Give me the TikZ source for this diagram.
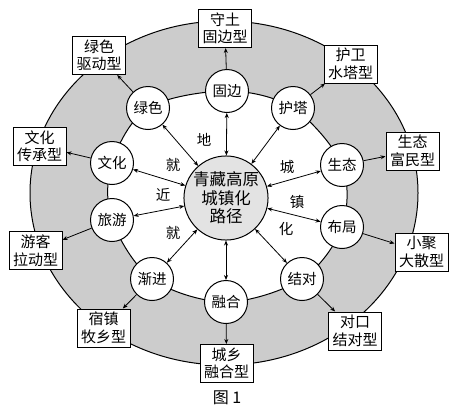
\documentclass[tikz,border=0pt]{standalone}
\usepackage{fontspec}
\newfontfamily\cjk{Noto Sans CJK SC}
\usetikzlibrary{arrows.meta}
\begin{document}
\begin{tikzpicture}[x=1pt,y=-1pt,
  sub/.style={circle,draw,line width=1pt,fill=white,minimum size=43pt,inner sep=0pt,font=\cjk\fontsize{14.5}{16}\selectfont},
  core/.style={circle,draw,line width=1pt,fill=gray!22,minimum size=78pt,inner sep=0pt,align=center,font=\cjk\fontsize{16.5}{18.5}\selectfont},
  typebox/.style={draw,line width=1pt,fill=white,align=center,inner sep=1pt,minimum width=53pt,minimum height=38pt,font=\cjk\fontsize{15}{17.5}\selectfont},
  link/.style={line width=0.8pt,{Stealth[length=5pt,width=4pt]}-{Stealth[length=5pt,width=4pt]}},
  outarrow/.style={line width=0.8pt,-{Stealth[length=5pt,width=4pt]}},
  lbl/.style={font=\cjk\fontsize{14.5}{16}\selectfont,inner sep=0pt}]
\useasboundingbox (0,0) rectangle (449,407);
% ring
\filldraw[fill=gray!40,line width=1pt] (224,193) ellipse [x radius=194pt, y radius=172pt];
\filldraw[fill=white,line width=1pt] plot[smooth cycle,tension=0.55] coordinates {
  (227,91) (293,108) (342,165) (342,227) (302,279) (226,302) (152,279) (112,220) (112,163) (148,108)};
% centre
\node[core] (core) at (226,198) {青藏高原\\城镇化\\路径};
% small circles
\node[sub] (gubian)   at (227,91)  {固边};
\node[sub] (lvse)     at (148,108) {绿色};
\node[sub] (huta)     at (293,108) {护塔};
\node[sub] (wenhua)   at (112,163) {文化};
\node[sub] (shengtai) at (342,165) {生态};
\node[sub] (lvyou)    at (112,220) {旅游};
\node[sub] (buju)     at (342,227) {布局};
\node[sub] (jianjin)  at (152,279) {渐进};
\node[sub] (jiedui)   at (302,279) {结对};
\node[sub] (ronghe)   at (226,302) {融合};
% boxes
\node[typebox] (b1)  at (225,28.5)  {守土\\固边型};
\node[typebox] (b2)  at (99,55.5)   {绿色\\驱动型};
\node[typebox] (b3)  at (350.5,64)  {护卫\\水塔型};
\node[typebox] (b4)  at (39.5,146)  {文化\\传承型};
\node[typebox] (b5)  at (412.5,151) {生态\\富民型};
\node[typebox] (b6)  at (35.5,250.5) {游客\\拉动型};
\node[typebox] (b7)  at (421.5,252) {小聚\\大散型};
\node[typebox] (b8)  at (103.5,328) {宿镇\\牧乡型};
\node[typebox] (b9)  at (355,331)   {对口\\结对型};
\node[typebox] (b10) at (226.5,363.5) {城乡\\融合型};
% centre links
\foreach \n in {gubian,lvse,huta,wenhua,shengtai,lvyou,buju,jianjin,jiedui,ronghe}
  \draw[link] (core) -- (\n);
% outward arrows
\draw[outarrow] (gubian) -- (b1);
\draw[outarrow] (lvse) -- (b2);
\draw[outarrow] (huta) -- (b3);
\draw[outarrow] (wenhua) -- (b4);
\draw[outarrow] (shengtai) -- (b5);
\draw[outarrow] (lvyou) -- (b6);
\draw[outarrow] (buju) -- (b7);
\draw[outarrow] (jianjin) -- (b8);
\draw[outarrow] (jiedui) -- (b9);
\draw[outarrow] (ronghe) -- (b10);
% labels
\node[lbl] (l1) at (204,140) {地};
\node[lbl] (l2) at (173,165) {就};
\node[lbl] (l3) at (163,195) {近};
\node[lbl] (l4) at (173,233) {就};
\node[lbl] (l5) at (287,167) {城};
\node[lbl] (l6) at (297,202) {镇};
\node[lbl] (l7) at (286,229) {化};
\node[lbl,font=\cjk\fontsize{16}{18}\selectfont] (fig) at (227,398) {图 1};
\end{tikzpicture}
\end{document}
